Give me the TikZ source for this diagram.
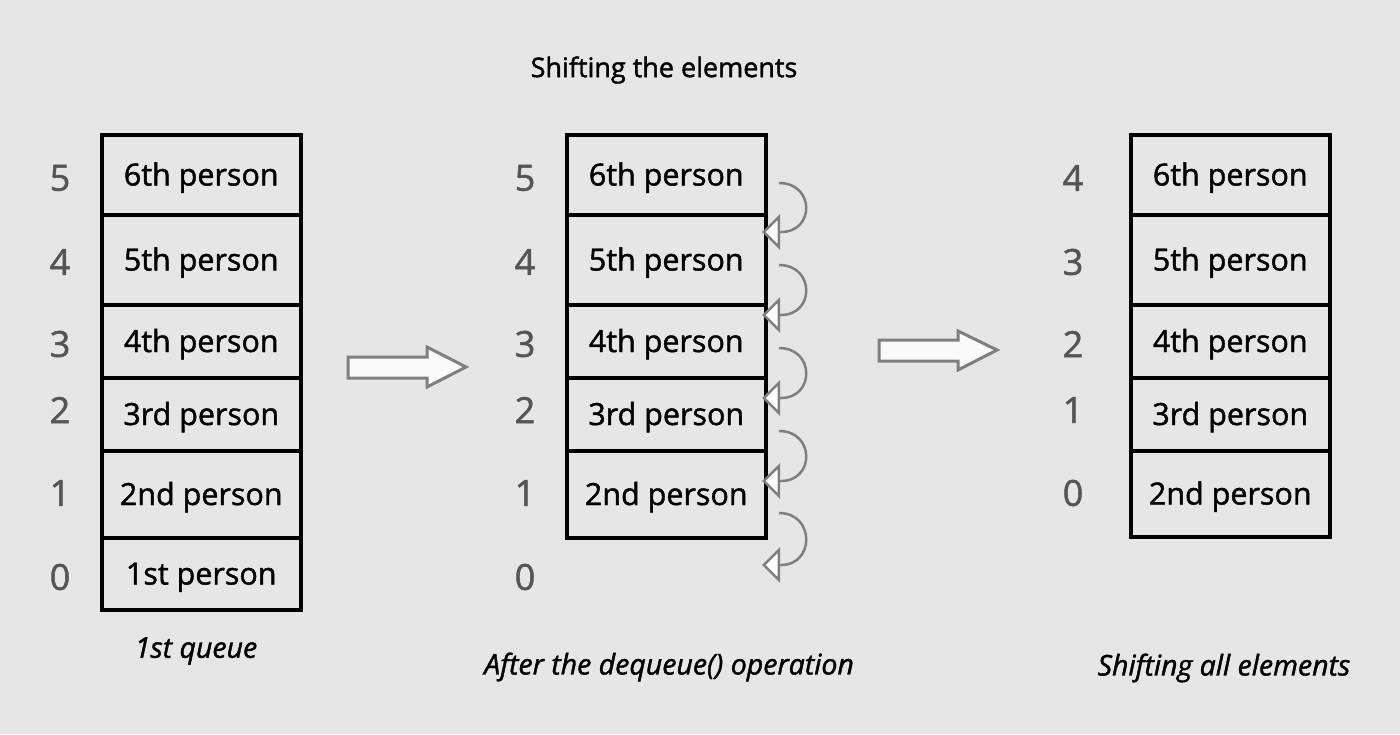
\documentclass[tikz,border=0pt]{standalone}
\usepackage{fontspec}
\setmainfont{Open Sans}[FakeBold=1.4, ItalicFeatures={FakeBold=1.4}]
\usetikzlibrary{arrows.meta}
\definecolor{bg}{HTML}{E6E6E6}
\definecolor{numgray}{HTML}{555555}
\definecolor{arrgray}{HTML}{7F7F7F}
\tikzset{
  cell/.style={draw=black, line width=3.5pt, minimum width=199pt, inner sep=0pt, anchor=north west, text height=29pt, text depth=7.5pt, font=\fontsize{30.5}{34}\selectfont},
  idx/.style={text=numgray, font=\fontsize{36}{40}\selectfont, inner sep=0pt},
  captext/.style={font=\fontsize{28.5}{32}\selectfont\itshape, inner sep=0pt},
  ttl/.style={font=\fontsize{27}{30}\selectfont, inner sep=0pt},
  blockarrow/.style={draw=arrgray, fill=white!98!black, line width=3pt, line join=miter},
  curl/.style={draw=arrgray, line width=2.5pt, -{Triangle[open, fill=white, length=18pt, width=35pt, line width=2.5pt]}}
}
\begin{document}
\begin{tikzpicture}[x=1pt,y=-1pt]
\useasboundingbox (0,0) rectangle (1400,734);
\fill[bg] (0,0) rectangle (1400,734);

% Title
\node[ttl] (title) at (664,70) {Shifting the elements};

% Queue 1
\def\xa{100}
\node[cell, minimum height=80pt] (a5) at (\xa,133) {6th person};
\node[cell, minimum height=90pt] (a4) at (\xa,213) {5th person};
\node[cell, minimum height=73pt] (a3) at (\xa,303) {4th person};
\node[cell, minimum height=73pt] (a2) at (\xa,376) {3rd person};
\node[cell, minimum height=87pt] (a1) at (\xa,449) {2nd person};
\node[cell, minimum height=72pt] (a0) at (\xa,536) {1st person};
\node[idx] (na5) at (60,178) {5};
\node[idx] (na4) at (60,262) {4};
\node[idx] (na3) at (60,344) {3};
\node[idx] (na2) at (60,410) {2};
\node[idx] (na1) at (60,493) {1};
\node[idx] (na0) at (60,577) {0};
\node[captext] (capa) at (196,651) {1st queue};

% Queue 2
\def\xb{565}
\node[cell, minimum height=80pt] (b5) at (\xb,133) {6th person};
\node[cell, minimum height=90pt] (b4) at (\xb,213) {5th person};
\node[cell, minimum height=73pt] (b3) at (\xb,303) {4th person};
\node[cell, minimum height=73pt] (b2) at (\xb,376) {3rd person};
\node[cell, minimum height=87pt] (b1) at (\xb,449) {2nd person};
\node[idx] (nb5) at (525,178) {5};
\node[idx] (nb4) at (525,262) {4};
\node[idx] (nb3) at (525,344) {3};
\node[idx] (nb2) at (525,410) {2};
\node[idx] (nb1) at (525,493) {1};
\node[idx] (nb0) at (525,577) {0};
\node[captext] (capb) at (669,667) {After the dequeue() operation};

% Queue 3
\def\xc{1129}
\node[cell, minimum height=80pt] (c4) at (\xc,133) {6th person};
\node[cell, minimum height=90pt] (c3) at (\xc,213) {5th person};
\node[cell, minimum height=73pt] (c2) at (\xc,303) {4th person};
\node[cell, minimum height=73pt] (c1) at (\xc,376) {3rd person};
\node[cell, minimum height=86pt] (c0) at (\xc,449) {2nd person};
\node[idx] (nc4) at (1073,178) {4};
\node[idx] (nc3) at (1073,262) {3};
\node[idx] (nc2) at (1073,344) {2};
\node[idx] (nc1) at (1073,410) {1};
\node[idx] (nc0) at (1073,493) {0};
\node[captext] (capc) at (1224,668) {Shifting all elements};

% Block arrows
\draw[blockarrow] (348,357) -- (427,357) -- (427,347) -- (466,367) -- (427,387) -- (427,378) -- (348,378) -- cycle;
\draw[blockarrow] (879,340) -- (958,340) -- (958,331) -- (997,350) -- (958,370) -- (958,361) -- (879,361) -- cycle;

% Curl arrows
\foreach \t/\b in {183/232, 265/315, 348/398, 431/481, 513/565}{
  \coordinate (s) at (779,\t);
  \coordinate (e) at (762,\b);
  \draw[curl] (s) .. controls (815,\t) and (815,\b) .. (781,\b) -- (e);
}
\end{tikzpicture}
\end{document}
